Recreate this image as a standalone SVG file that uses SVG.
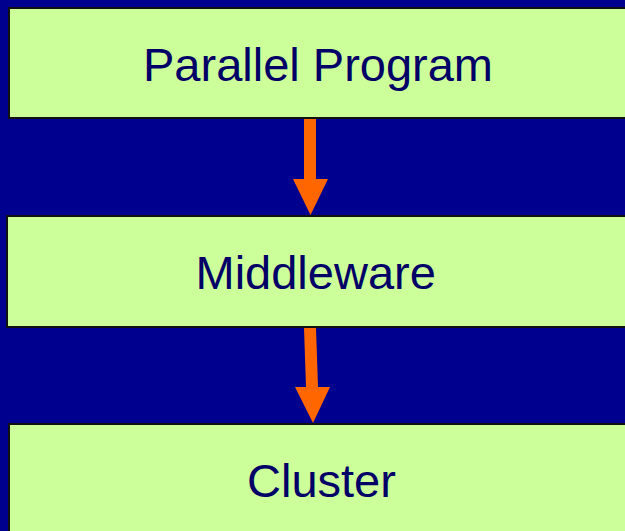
<svg xmlns="http://www.w3.org/2000/svg" width="625" height="531" viewBox="0 0 625 531">
  <style>
    .box { fill: #ccff99; stroke: #111111; stroke-width: 2; }
    .label { font-family: "Liberation Sans", Arial, sans-serif; font-size: 47px; fill: #000066; }
    .arrow { fill: #ff6600; }
  </style>
  <rect x="0" y="0" width="625" height="531" fill="#00008f"/>

  <g id="node-parallel-program">
    <rect class="box" x="9" y="8" width="630" height="110"/>
    <text class="label" x="143" y="81">Parallel Program</text>
  </g>

  <g id="node-middleware">
    <rect class="box" x="7" y="216" width="630" height="111"/>
    <text class="label" x="195.5" y="288.5">Middleware</text>
  </g>

  <g id="node-cluster">
    <rect class="box" x="9" y="424" width="630" height="120"/>
    <text class="label" x="247" y="497">Cluster</text>
  </g>

  <g id="connectors">
    <polygon class="arrow" points="304,119 316,119 316,179 328,179 310.5,215 293,179 304,179"/>
    <polygon class="arrow" points="304,328 316,328 318,387 330,387 313,423 295,387 306,387"/>
  </g>
</svg>
